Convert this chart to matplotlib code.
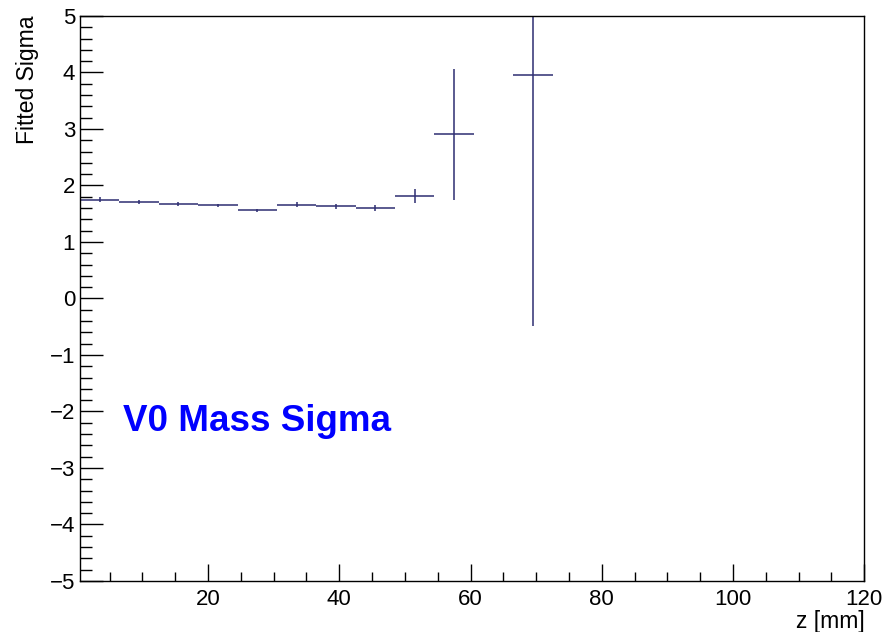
import numpy as np
import matplotlib.pyplot as plt
from matplotlib.ticker import MultipleLocator

# bin centres (z in mm), half width, fitted sigma and its error
z = [3.5, 9.5, 15.5, 21.5, 27.5, 33.5, 39.5, 45.5, 51.5, 57.5, 69.5]
zerr = [3.0] * len(z)
sigma = [1.75, 1.71, 1.67, 1.65, 1.56, 1.66, 1.63, 1.60, 1.81, 2.91, 3.95]
sigma_err = [0.04, 0.03, 0.03, 0.03, 0.03, 0.04, 0.04, 0.05, 0.12, 1.16, 4.44]

plt.rcParams['font.family'] = ['Liberation Sans', 'DejaVu Sans']

fig = plt.figure(figsize=(8.87, 6.32), dpi=100)
ax = fig.add_axes([0.0902, 0.0807, 0.8842, 0.894])

ax.errorbar(z, sigma, xerr=zerr, yerr=sigma_err, fmt='none',
            ecolor='#2e2e72', elinewidth=1.1, capsize=0)

ax.set_xlim(0.5, 120)
ax.set_ylim(-5, 5)

ax.xaxis.set_major_locator(MultipleLocator(20))
ax.xaxis.set_minor_locator(MultipleLocator(5))
ax.yaxis.set_major_locator(MultipleLocator(1))
ax.yaxis.set_minor_locator(MultipleLocator(0.2))

ax.tick_params(axis='both', which='both', direction='in', top=False, right=False,
               labelsize=16, width=1.0, colors='black')
ax.tick_params(axis='y', which='major', length=16.5, pad=3.5)
ax.tick_params(axis='y', which='minor', length=8.6)
ax.tick_params(axis='x', which='major', length=12.2, pad=6)
ax.tick_params(axis='x', which='minor', length=6.5)

for s in ax.spines.values():
    s.set_linewidth(1.0)

# labels placed at axis ends, ROOT style
ax.set_xlabel('z [mm]', fontsize=16.5, loc='right', labelpad=0)
ax.set_ylabel('Fitted Sigma', fontsize=16.5, loc='top', labelpad=8)

ax.text(7.0, -2.18, 'V0 Mass Sigma', color='#0000ff', fontsize=26.5,
        fontweight='bold', va='center', ha='left')

fig.savefig('out.png', dpi=100)
